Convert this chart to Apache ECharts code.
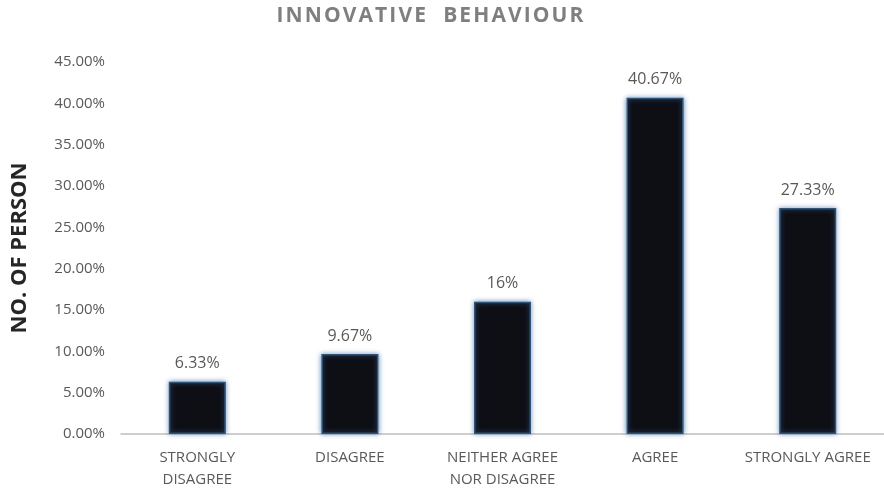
<!DOCTYPE html>
<html>
<head>
<meta charset="utf-8">
<script src="https://cdn.jsdelivr.net/npm/echarts@6/dist/echarts.min.js"></script>
<style>
  html, body { margin: 0; padding: 0; background: #ffffff; }
  #chart { width: 884px; height: 491px; }
</style>
</head>
<body>
<div id="chart"></div>
<script>
// Survey responses: share of persons per answer
const categories = ['STRONGLY\nDISAGREE', 'DISAGREE', 'NEITHER AGREE\nNOR DISAGREE', 'AGREE', 'STRONGLY AGREE'];
const shares = [6.33, 9.67, 16, 40.67, 27.33];
const yTicks = { min: 0, max: 45, interval: 5 };

// lightly tracked heading: hair spaces between letters
const heading = 'INNOVATIVE  BEHAVIOUR'.split('').join('\u200A');

const chart = echarts.init(document.getElementById('chart'));
chart.setOption({
  backgroundColor: '#ffffff',
  title: {
    text: heading,
    left: 425,
    top: 1,
    textAlign: 'center',
    textStyle: {
      fontFamily: 'Open Sans',
      fontSize: 21,
      fontWeight: 'bold',
      color: '#7f7f7f'
    }
  },
  grid: { left: 121, right: 0, top: 62, bottom: 57 },
  xAxis: {
    type: 'category',
    data: categories,
    axisLine: { lineStyle: { color: '#bfbfbf', width: 1.5 } },
    axisTick: { show: false },
    axisLabel: {
      margin: 13,
      color: '#595959',
      fontFamily: 'Open Sans',
      fontSize: 15,
      lineHeight: 22,
      interval: 0
    }
  },
  yAxis: {
    type: 'value',
    min: yTicks.min,
    max: yTicks.max,
    interval: yTicks.interval,
    name: 'NO. OF PERSON',
    nameLocation: 'middle',
    nameGap: 90,
    nameTextStyle: {
      fontFamily: 'Open Sans',
      fontSize: 22,
      fontWeight: 'bold',
      color: '#262626'
    },
    axisLine: { show: false },
    axisTick: { show: false },
    splitLine: { show: false },
    axisLabel: {
      margin: 16,
      color: '#595959',
      fontFamily: 'Open Sans',
      fontSize: 15,
      formatter: v => v.toFixed(2) + '%'
    }
  },
  series: [{
    type: 'bar',
    data: shares,
    barWidth: 57,
    itemStyle: {
      color: '#0e0e15',
      borderColor: '#2e5479',
      borderWidth: 1.5,
      shadowColor: 'rgba(60,110,160,0.8)',
      shadowBlur: 5
    },
    label: {
      show: true,
      position: 'top',
      distance: 10,
      color: '#595959',
      fontFamily: 'Open Sans',
      fontSize: 16,
      formatter: p => p.value + '%'
    }
  }]
});
</script>
</body>
</html>
